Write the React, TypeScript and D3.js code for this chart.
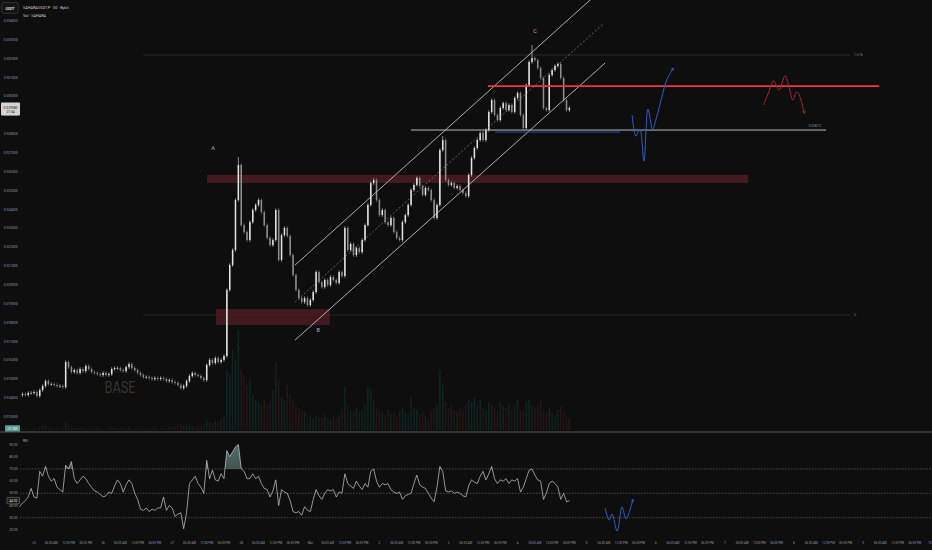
import * as d3 from 'd3';

// hourly closes, Feb 24 19:00 UTC onward
const closes = [
  0.01416, 0.01421, 0.01416, 0.01427, 0.01427, 0.01432, 0.01411, 0.01442, 0.01464, 0.0149,
  0.01474, 0.01474, 0.01469, 0.01464, 0.01464, 0.01458, 0.01591, 0.01564, 0.01538, 0.01548,
  0.01533, 0.01554, 0.01543, 0.0157, 0.01554, 0.01538, 0.01533, 0.01527, 0.01522, 0.01533,
  0.01522, 0.01527, 0.01554, 0.01559, 0.01559, 0.01548, 0.01543, 0.01564, 0.0158, 0.01559,
  0.01548, 0.01533, 0.01522, 0.01511, 0.01511, 0.01506, 0.01501, 0.01506, 0.01501, 0.01506,
  0.01501, 0.0149, 0.01495, 0.01485, 0.0148, 0.01469, 0.01453, 0.01464, 0.0149, 0.01517,
  0.01533, 0.01522, 0.01517, 0.01506, 0.01495, 0.01575, 0.01602, 0.01586, 0.01612, 0.01591,
  0.01602, 0.01623, 0.01973, 0.02105, 0.02185, 0.0245, 0.02636, 0.02317, 0.0228, 0.02238,
  0.02333, 0.02397, 0.02424, 0.0245, 0.02386, 0.02317, 0.02249, 0.02211, 0.02238, 0.02397,
  0.02132, 0.02264, 0.02302, 0.02259, 0.02158, 0.02052, 0.01973, 0.0193, 0.01909, 0.0193,
  0.01893, 0.0192, 0.01962, 0.02068, 0.02015, 0.01989, 0.02026, 0.01999, 0.02042, 0.02026,
  0.0201, 0.02068, 0.02047, 0.02302, 0.02185, 0.02217, 0.02158, 0.02195, 0.02174, 0.02238,
  0.02317, 0.02424, 0.0254, 0.02556, 0.0245, 0.0237, 0.02397, 0.02333, 0.02317, 0.02355,
  0.0228, 0.02249, 0.02238, 0.02333, 0.0237, 0.02424, 0.02503, 0.0253, 0.02567, 0.02524,
  0.02477, 0.02514, 0.02503, 0.0245, 0.02355, 0.02424, 0.02715, 0.02768, 0.02556, 0.0253,
  0.0254, 0.02514, 0.02524, 0.02503, 0.02487, 0.02471, 0.02583, 0.02673, 0.02726, 0.02768,
  0.02805, 0.02768, 0.02821, 0.02917, 0.0298, 0.02901, 0.02874, 0.02938, 0.02964, 0.02927,
  0.02954, 0.02917, 0.02991, 0.03017, 0.02901, 0.02832, 0.0306, 0.03182, 0.03203, 0.03192,
  0.0315, 0.03097, 0.02938, 0.02927, 0.03113, 0.03139, 0.03161, 0.03171, 0.03097, 0.0298,
  0.02927, 0.02938,
];

const volumes = [
  2, 1, 2, 1, 1, 2, 2, 3, 4, 5, 3, 2, 2, 2, 1, 2,
  8,
  4, 3, 2, 2, 2, 3, 2, 2, 2, 1, 2, 2, 1, 2, 2,
  3, 2, 2, 2, 3, 2, 3, 2, 2, 3, 2, 2, 2, 2, 2, 2,
  2, 2, 2, 2, 3, 3, 4, 5, 6, 4, 5, 4, 3, 3, 4, 5, 6,
  10, 8, 7, 9, 8, 10, 14,
  60, 55, 80, 70, 100,
  60, 55, 45, 50, 35, 30, 28, 25, 30, 26, 27,
  40, 68, 50,
  33, 30, 45, 35, 30, 25, 22, 20, 18, 15, 14,
  12, 14, 13, 12, 16, 12, 10, 14, 12, 15, 20,
  43, 25, 20, 18, 22, 18,
  20, 25, 43, 40, 30, 22, 20,
  18, 15, 20, 16, 18, 14, 20, 22, 18, 16, 33, 22,
  20, 15, 18, 14, 12, 18, 22, 25,
  60, 45,
  28, 22, 25, 20, 18, 22, 20, 26,
  30, 28, 32, 25, 30, 22, 20, 28,
  25, 22, 20, 28, 24, 22, 26, 20, 24, 30,
  20, 18, 28, 30, 25, 22, 26, 30, 20, 18, 22, 18, 15, 20, 24, 18, 14, 12,
];

const rsi = [
  39, 42, 44, 47, 54, 47, 46, 68, 64, 72, 64, 60, 62, 55, 53, 51, 73, 70, 76, 62,
  58, 61, 64, 62, 58, 55, 52, 51, 49, 47, 48, 51, 50, 56, 61, 58, 51, 57, 61, 58,
  50, 45, 37, 36, 38, 35, 37, 36, 38, 38, 47, 36, 40, 38, 31, 33, 34, 21, 34, 58,
  61, 64, 58, 55, 50, 77, 62, 69, 61, 60, 66, 62, 85, 80, 84, 88, 90, 70, 68, 62,
  62, 66, 62, 64, 58, 54, 53, 47, 52, 61, 40, 53, 51, 50, 44, 35, 34, 35, 32, 39,
  36, 35, 45, 53, 48, 45, 50, 53, 52, 53, 47, 51, 50, 66, 58, 56, 54, 60, 56, 53,
  58, 55, 68, 70, 60, 55, 58, 57, 58, 53, 51, 50, 51, 45, 48, 49, 50, 58, 65, 57,
  55, 54, 50, 46, 43, 55, 72, 68, 52, 51, 52, 50, 51, 50, 48, 47, 56, 61, 59, 58,
  64, 68, 61, 66, 72, 62, 58, 61, 60, 62, 58, 61, 60, 62, 51, 55, 62, 69, 70, 65,
  61, 60, 45, 50, 58, 60, 58, 55, 45, 50, 43, 44,
];

// candles with a visibly longer upper wick: [index, high]
const spikeHighs: [number, number][] = [[76, 0.02678], [147, 0.0279], [178, 0.03272]];

const priceTicks = [
  0.013, 0.014, 0.015, 0.016, 0.017, 0.018, 0.019, 0.02, 0.021, 0.022, 0.023,
  0.024, 0.025, 0.026, 0.027, 0.028, 0.029, 0.03, 0.031, 0.032, 0.033, 0.034,
];
const rsiTicks = [20, 30, 40, 50, 60, 70, 80, 90];
const rsiLevels = [70, 50, 30];
const dayLabels = ['25', '26', '27', '28', 'Mar', '2', '3', '4', '5', '6', '7', '8', '9', '10'];
const hourLabels = ['06:00 AM', '12:00 PM', '06:00 PM'];

// drawings, hours counted from Feb 25 00:00 UTC
const channelHours = [90.7, 198.4];
const channelUpper = [0.021053, 0.035822];
const channelMid = [0.019091, 0.033833];
const channelLower = [0.017076, 0.031765];

const zones = [
  { from: 60.1, to: 248.1, top: 0.02583, bottom: 0.0254 },
  { from: 63.2, to: 102.8, top: 0.01872, bottom: 0.01787 },
];
const redLevel = { from: 157.7, to: 293.6, price: 0.030545 };
const whiteLevel = { from: 131.0, to: 275.2, price: 0.028212 };
const blueLevel = { from: 160.2, to: 203.6, price: 0.028106 };
const fibLevels = [
  { from: 37.9, to: 283.5, price: 0.03219, label: '1.618' },
  { from: 37.9, to: 283.5, price: 0.0184, label: '0' },
];

const bluePathHours = [207.8, 209.1, 210.5, 211.9, 213.3, 214.9, 216.3, 218.1, 219.8, 222.1];
const bluePathPrices = [0.029007, 0.027894, 0.028265, 0.026568, 0.029325, 0.028265, 0.028901, 0.029962, 0.030864, 0.0315];
const redPathHours = [253.4, 255.1, 256.9, 258.8, 260.9, 262.4, 263.6, 265.0, 266.1, 267.6];
const redPathPrices = [0.029538, 0.030158, 0.030827, 0.030333, 0.031092, 0.030423, 0.029806, 0.030243, 0.029978, 0.029098];
const rsiPathHours = [198.4, 199.8, 200.8, 202.6, 204.3, 205.7, 208.1];
const rsiPathValues = [38, 28, 33, 19, 38.8, 29, 45.3];

const waveLabels = [
  { text: 'A', hour: 62.2, price: 0.02715 },
  { text: 'B', hour: 98.7, price: 0.0175 },
  { text: 'C', hour: 174.1, price: 0.03336 },
];

const W = 932;
const H = 550;
const PANE = { left: 20, right: W, top: 0, bottom: 431 };
const RSI_PANE = { top: 433, bottom: 536 };
const HOUR = 3600e3;
const T0 = Date.UTC(2025, 1, 25);
const FIRST_CANDLE = Date.UTC(2025, 1, 24, 19);
const WICK = 0.00009;
const FONT = 'Roboto, sans-serif';

const at = (h: number) => new Date(T0 + h * HOUR);

export default function App() {
  const x = d3.scaleUtc().domain([new Date(T0), at(12 * 24)]).range([34, 863]);
  const y = d3.scaleLinear().domain([0.013, 0.034]).range([416.9, 20.9]);
  const yVol = d3.scaleLinear().domain([0, 100]).range([430, 330]);
  const yRsi = d3.scaleLinear().domain([20, 90]).range([529.9, 444.5]);

  const candles = closes.map((c, i) => {
    const o = i ? closes[i - 1] : c;
    const spike = spikeHighs.find((s) => s[0] === i);
    return {
      t: new Date(FIRST_CANDLE + i * HOUR),
      o,
      c,
      h: spike ? spike[1] : Math.max(o, c) + WICK,
      l: Math.min(o, c) - WICK,
      v: volumes[i],
      r: rsi[i],
    };
  });
  const bw = 1.5;

  const smooth = d3
    .line<[number, number]>()
    .x((d) => d[0])
    .y((d) => d[1])
    .curve(d3.curveCatmullRom.alpha(0.5));
  const bluePath = smooth(bluePathHours.map((h, i) => [x(at(h)), y(bluePathPrices[i])]));
  const redPath = smooth(redPathHours.map((h, i) => [x(at(h)), y(redPathPrices[i])]));
  const rsiProj = smooth(rsiPathHours.map((h, i) => [x(at(h)), yRsi(rsiPathValues[i])]));

  const rsiLine = d3
    .line<(typeof candles)[number]>()
    .x((d) => x(d.t))
    .y((d) => yRsi(d.r));
  const rsiArea = d3
    .area<(typeof candles)[number]>()
    .x((d) => x(d.t))
    .y0(yRsi(70))
    .y1((d) => yRsi(d.r));

  const timeTicks: { t: Date; label: string }[] = [];
  dayLabels.forEach((d, i) => {
    timeTicks.push({ t: at(i * 24), label: d });
    hourLabels.forEach((hl, j) => timeTicks.push({ t: at(i * 24 + (j + 1) * 6), label: hl }));
  });

  const last = candles[candles.length - 1];
  const lastY = y(last.c);
  const lastRsiY = yRsi(last.r);

  const hLine = (lv: { from: number; to: number; price: number }) => ({
    x1: x(at(lv.from)),
    x2: x(at(lv.to)),
    y1: y(lv.price),
    y2: y(lv.price),
  });

  return (
    <>
      <style>{'body{margin:0;background:#0e0e0e}'}</style>
      <svg width={W} height={H} style={{ display: 'block' }} fontFamily={FONT}>
        <defs>
          <clipPath id="pane">
            <rect x={PANE.left} y={PANE.top} width={PANE.right - PANE.left} height={PANE.bottom - PANE.top} />
          </clipPath>
          <clipPath id="above70">
            <rect x={0} y={RSI_PANE.top} width={W} height={yRsi(70) - RSI_PANE.top} />
          </clipPath>
          <linearGradient id="obFill" x1="0" y1="0" x2="0" y2="1">
            <stop offset="0%" stopColor="#5d7f77" stopOpacity={0.85} />
            <stop offset="100%" stopColor="#263632" stopOpacity={0.6} />
          </linearGradient>
          <marker id="arrowBlue" viewBox="0 0 10 10" refX="8" refY="5" markerWidth="4" markerHeight="4" orient="auto">
            <path d="M1,1 L8,5 L1,9" fill="none" stroke="#2f5bc4" strokeWidth={1.8} />
          </marker>
          <marker id="arrowRed" viewBox="0 0 10 10" refX="8" refY="5" markerWidth="4" markerHeight="4" orient="auto">
            <path d="M1,1 L8,5 L1,9" fill="none" stroke="#b22634" strokeWidth={1.8} />
          </marker>
        </defs>

        <rect width={W} height={H} fill="#0e0e0e" />

        <g clipPath="url(#pane)">
          {/* volume */}
          {candles.map((d, i) => (
            <rect
              key={i}
              x={x(d.t) - bw / 2}
              y={yVol(d.v)}
              width={bw}
              height={yVol(0) - yVol(d.v)}
              fill={d.c >= d.o ? '#0f2520' : '#271417'}
            />
          ))}

          {/* fib levels */}
          {fibLevels.map((f, i) => (
            <line key={i} {...hLine(f)} stroke={i === 0 ? '#1c3a24' : '#3e2328'} strokeWidth={0.8} />
          ))}

          {/* zones */}
          {zones.map((z, i) => (
            <rect
              key={i}
              x={x(at(z.from))}
              y={y(z.top)}
              width={x(at(z.to)) - x(at(z.from))}
              height={y(z.bottom) - y(z.top)}
              fill="#4b1b21"
              fillOpacity={0.85}
            />
          ))}

          {/* candles */}
          {candles.map((d, i) => {
            const up = d.c >= d.o;
            const col = up ? '#e4e4e4' : '#8f8f8f';
            const top = y(Math.max(d.o, d.c));
            const bot = y(Math.min(d.o, d.c));
            return (
              <g key={i}>
                <line x1={x(d.t)} x2={x(d.t)} y1={y(d.h)} y2={y(d.l)} stroke={col} strokeWidth={0.6} />
                <rect x={x(d.t) - bw / 2} y={top} width={bw} height={Math.max(0.6, bot - top)} fill={col} />
              </g>
            );
          })}

          {/* channel */}
          <line
            x1={x(at(channelHours[0]))}
            x2={x(at(channelHours[1]))}
            y1={y(channelUpper[0])}
            y2={y(channelUpper[1])}
            stroke="#d6d6d6"
            strokeWidth={0.8}
          />
          <line
            x1={x(at(channelHours[0]))}
            x2={x(at(channelHours[1] - 0.7))}
            y1={y(channelMid[0])}
            y2={y(channelMid[1])}
            stroke="#9a9a9a"
            strokeWidth={0.6}
            strokeDasharray="2 2"
          />
          <line
            x1={x(at(channelHours[0]))}
            x2={x(at(channelHours[1]))}
            y1={y(channelLower[0])}
            y2={y(channelLower[1])}
            stroke="#d6d6d6"
            strokeWidth={0.8}
          />

          {/* levels */}
          <line {...hLine(whiteLevel)} stroke="#b8bac2" strokeWidth={1} />
          <line {...hLine(blueLevel)} stroke="#2b4ea8" strokeWidth={1} />
          <line {...hLine(redLevel)} stroke="#f23645" strokeWidth={1.8} />

          {/* projections */}
          <path d={bluePath ?? ''} fill="none" stroke="#2f5bc4" strokeWidth={1} markerEnd="url(#arrowBlue)" />
          <path d={redPath ?? ''} fill="none" stroke="#a82432" strokeWidth={1} markerEnd="url(#arrowRed)" />

          {/* texts */}
          {waveLabels.map((w) => (
            <text key={w.text} x={x(at(w.hour))} y={y(w.price)} fill="#b2b5be" fontSize={5.5} textAnchor="middle">
              {w.text}
            </text>
          ))}
          <text x={x(at(29.9))} y={y(0.014265)} fill="#3a322f" fontSize={17} textAnchor="middle" textLength={31} lengthAdjust="spacingAndGlyphs">
            BASE
          </text>
          <text x={x(at(whiteLevel.to)) - 5} y={y(whiteLevel.price) - 3} fill="#9598a1" fontSize={3} textAnchor="end">
            {whiteLevel.price.toFixed(6)}
          </text>
          {fibLevels.map((f, i) => (
            <text
              key={i}
              x={x(at(f.to)) + 4}
              y={y(f.price) + 1.2}
              fill={i === 0 ? '#6d8a72' : '#c2404e'}
              fontSize={3.4}
            >
              {f.label}
            </text>
          ))}
        </g>

        {/* header */}
        <rect x={1.7} y={2.3} width={16.6} height={11} rx={2} fill="#141414" stroke="#4a4a4a" strokeWidth={0.6} />
        <text x={10} y={9.5} fill="#e0e0e0" fontSize={3.6} textAnchor="middle" fontWeight={600}>
          USDT
        </text>
        <text x={23} y={9} fill="#c9cbd2" fontSize={3.8}>
          SAHARAUSDT.P · 30 · Bybit
        </text>
        <text x={23} y={17} fill="#c9cbd2" fontSize={3.8}>
          Vol · SAHARA
        </text>

        {/* price axis */}
        {priceTicks.map((p) => (
          <text key={p} x={17.5} y={y(p) + 1.1} fill="#9598a1" fontSize={3.3} textAnchor="end">
            {p.toFixed(6)}
          </text>
        ))}
        <rect x={1} y={lastY - 5.5} width={19} height={13} fill="#d4d4d4" rx={0.8} />
        <text x={10.5} y={lastY + 0.6} fill="#131313" fontSize={3.3} textAnchor="middle">
          {last.c.toFixed(6)}
        </text>
        <text x={10.5} y={lastY + 5.4} fill="#131313" fontSize={3.3} textAnchor="middle">
          21:54
        </text>
        <rect x={5} y={425.3} width={15} height={6.4} fill="#5f9e94" rx={0.6} />
        <text x={12.5} y={429.6} fill="#f0f0f0" fontSize={3.3} textAnchor="middle">
          31.3M
        </text>

        {/* pane separator */}
        <line x1={0} x2={W} y1={432} y2={432} stroke="#5a5a5a" strokeWidth={1} />

        {/* RSI pane */}
        <text x={23} y={442} fill="#b2b5be" fontSize={3.4}>
          RSI
        </text>
        {rsiTicks.map((r) => (
          <text key={r} x={17.5} y={yRsi(r) + 1.1} fill="#9598a1" fontSize={3.3} textAnchor="end">
            {r.toFixed(2)}
          </text>
        ))}
        {rsiLevels.map((r) => (
          <line key={r} x1={PANE.left} x2={W} y1={yRsi(r)} y2={yRsi(r)} stroke="#6a6d76" strokeWidth={0.6} strokeDasharray="1.5 1.5" />
        ))}
        <path d={rsiArea(candles) ?? ''} fill="url(#obFill)" clipPath="url(#above70)" />
        <path d={rsiLine(candles) ?? ''} fill="none" stroke="#cfcfcf" strokeWidth={0.7} />
        <path d={rsiProj ?? ''} fill="none" stroke="#2f5bc4" strokeWidth={1} markerEnd="url(#arrowBlue)" />
        <rect x={7} y={lastRsiY - 3.3} width={12.5} height={6.6} fill="#1e1e1e" stroke="#8a8a8a" strokeWidth={0.5} rx={0.6} />
        <text x={13.25} y={lastRsiY + 1.1} fill="#d8d8d8" fontSize={3.2} textAnchor="middle">
          {last.r.toFixed(2)}
        </text>

        {/* time axis */}
        {timeTicks
          .filter((tk) => x(tk.t) > PANE.left + 6 && x(tk.t) < W + 6)
          .map((tk, i) => {
            const tx = x(tk.t);
            const edge = tx > W - 4;
            return (
              <text key={i} x={edge ? W - 0.5 : tx} y={544} fill="#9598a1" fontSize={3} textAnchor={edge ? 'end' : 'middle'}>
                {tk.label}
              </text>
            );
          })}
      </svg>
    </>
  );
}
